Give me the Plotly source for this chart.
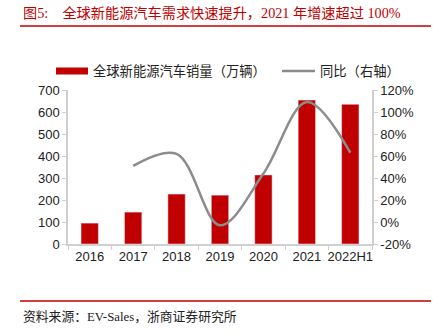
import plotly.graph_objects as go

# Global NEV sales (10k units) and YoY growth (%)
years = ["2016", "2017", "2018", "2019", "2020", "2021", "2022H1"]
sales = [95, 145, 227, 222, 314, 654, 635]
growth_years = ["2017", "2018", "2019", "2020", "2021", "2022H1"]
growth = [51, 62, -3, 44, 109, 63]

left_ticks = [0, 100, 200, 300, 400, 500, 600, 700]
right_ticks = [-20, 0, 20, 40, 60, 80, 100, 120]
right_labels = [f"{v}%" for v in right_ticks]

RED = "#c00000"
GREY = "#8c8c8c"
AXIS = "#d0d0d0"
CJK = "Liberation Sans, Arial, Noto Sans CJK SC"
SERIF = "Liberation Serif, Times New Roman, Noto Sans CJK SC"

fig = go.Figure()
fig.add_trace(go.Bar(x=years, y=sales, marker_color=RED, width=0.4,
                     name="全球新能源汽车销量（万辆）", showlegend=False))
fig.add_trace(go.Scatter(x=growth_years, y=growth, yaxis="y2", mode="lines",
                         line=dict(color=GREY, width=2.5, shape="spline", smoothing=1.0),
                         name="同比（右轴）", showlegend=False))

W, H = 433, 334
L, R, T, B = 68, 61, 90, 90

fig.update_layout(
    width=W, height=H,
    margin=dict(l=L, r=R, t=T, b=B),
    paper_bgcolor="white", plot_bgcolor="white",
    font=dict(family=CJK, size=13, color="#222"),
    xaxis=dict(type="category", categoryorder="array", categoryarray=years,
               showline=True, linecolor=AXIS, linewidth=1.5, tickangle=0,
               ticks="outside", ticklen=4, tickcolor=AXIS, tickson="boundaries",
               showgrid=False, tickfont=dict(size=13)),
    yaxis=dict(range=[0, 700], tickmode="array", tickvals=left_ticks,
               showline=True, linecolor=AXIS,
               linewidth=1.5, ticks="outside", ticklen=4, tickcolor=AXIS,
               showgrid=False, zeroline=False, tickfont=dict(size=13)),
    yaxis2=dict(range=[-20, 120], tickmode="array", tickvals=right_ticks,
                ticktext=right_labels,
                overlaying="y", side="right", showline=True, linecolor=AXIS,
                linewidth=1.5, ticks="outside", ticklen=4, tickcolor=AXIS,
                showgrid=False, zeroline=False, tickfont=dict(size=13)),
)


def ax(xp):
    return (xp - L) / (W - L - R)


def ay(yp):
    return (H - B - yp) / (H - T - B)


shapes = []
# header and footer rules
for yy in (26, 301):
    shapes.append(dict(type="line", xref="paper", yref="paper",
                       x0=ax(20), x1=ax(431), y0=ay(yy), y1=ay(yy),
                       line=dict(color=RED, width=1.5)))
# legend swatches
shapes.append(dict(type="rect", xref="paper", yref="paper",
                   x0=ax(56), x1=ax(88), y0=ay(74.5), y1=ay(67.5),
                   fillcolor=RED, line=dict(width=0)))
shapes.append(dict(type="line", xref="paper", yref="paper",
                   x0=ax(282), x1=ax(315), y0=ay(71), y1=ay(71),
                   line=dict(color=GREY, width=2.5)))

annotations = [
    dict(text="图5:    全球新能源汽车需求快速提升，2021 年增速超过 100%",
         x=ax(21), y=ay(13), xanchor="left", yanchor="middle",
         font=dict(family=SERIF, size=14.2, color=RED)),
    dict(text="全球新能源汽车销量（万辆）", x=ax(91), y=ay(71),
         xanchor="left", yanchor="middle", font=dict(size=13.3, color="#222")),
    dict(text="同比（右轴）", x=ax(318), y=ay(71),
         xanchor="left", yanchor="middle", font=dict(size=13.3, color="#222")),
    dict(text="资料来源：EV-Sales，浙商证券研究所", x=ax(21), y=ay(316),
         xanchor="left", yanchor="middle",
         font=dict(family=SERIF, size=12.8, color="#222")),
]
for a in annotations:
    a.update(xref="paper", yref="paper", showarrow=False)

fig.update_layout(shapes=shapes, annotations=annotations)
fig.write_html("out.html")
